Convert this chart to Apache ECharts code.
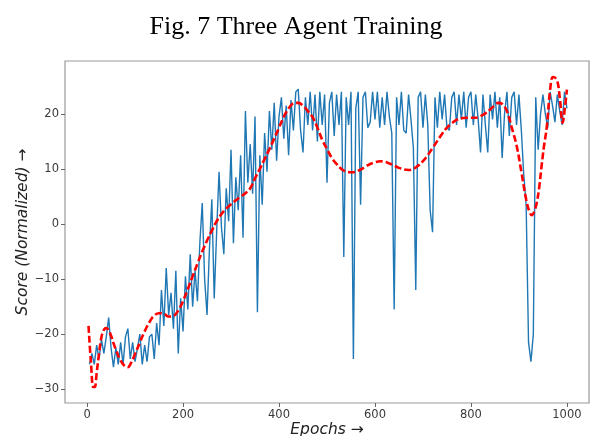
<!DOCTYPE html>
<html>
<head>
<meta charset="utf-8">
<script src="https://cdn.jsdelivr.net/npm/echarts@6/dist/echarts.min.js"></script>
<style>
html,body{margin:0;padding:0;background:#fff;}
#chart{width:592px;height:436px;}
</style>
</head>
<body>
<div id="chart"></div>
<script>
const titleText = 'Fig. 7 Three Agent Training';
const xName = 'Epochs \u2192';
const yName = 'Score (Normalized) \u2192';
const xTicks = [0, 200, 400, 600, 800, 1000];
const yTicks = [-30, -20, -10, 0, 10, 20];

const blueEpochs = [5,10,15,20,25,30,35,40,45,50,55,60,65,70,75,80,85,90,95,100,
105,110,115,120,125,130,135,140,145,150,155,160,165,170,175,180,185,190,195,200,
205,210,215,220,225,230,235,240,245,250,255,260,265,270,275,280,285,290,295,300,
305,310,315,320,325,330,335,340,345,350,355,360,365,370,375,380,385,390,395,400,
405,410,415,420,425,430,435,440,445,450,455,460,465,470,475,480,485,490,495,500,
505,510,515,520,525,530,535,540,545,550,555,560,565,570,575,580,585,590,595,600,
605,610,615,620,625,630,635,640,645,650,655,660,665,670,675,680,685,690,695,700,
705,710,715,720,725,730,735,740,745,750,755,760,765,770,775,780,785,790,795,800,
805,810,815,820,825,830,835,840,845,850,855,860,865,870,875,880,885,890,895,900,
905,910,915,920,925,930,935,940,945,950,955,960,965,970,975,980,985,990,995,1000];
const blueScores = [-25.5,-23.5,-25.5,-22,-24.5,-21,-23.5,-20.5,-17,-22.5,-26,-22.5,-25.5,-21.5,-25.5,-20.5,-19,-24.5,-21.5,-25,
-22.5,-20,-25.5,-22,-25,-20.5,-20,-24.5,-18,-22,-12,-18.5,-8,-16.5,-12.5,-19,-8.5,-23.5,-13.5,-19.5,
-9.5,-15.5,-5.5,-15,-8.5,-14,-3.5,3.8,-10,-16.5,-4.5,4.5,-13.5,-1.5,9.5,-0.5,-5.5,6.5,0.5,13.5,
-3.5,8.5,2.5,12.5,-2.5,20.5,7.5,14.5,5.5,19.5,-16,12.5,3.5,16.5,9.5,20.5,13.5,22,11.5,19.5,
23,15.5,21.5,12.5,22.5,17,24,24.5,17,13,23,18,24,17,23.5,15,24,18,23.5,7.5,
22,24,16,23.5,18,24,-6,23,18,24,-24.5,21,24,3.5,23,24,17.5,18.5,24,19,
24,17.5,23,18,24,19.5,16.5,-15.5,23,18,24,17,16.5,23.5,19,13.8,-12,23,24,17.5,
23.5,18,2.5,-1.5,23,17.5,24,19,23.5,17.5,17,23,24,18,23.5,19,24,17.5,23,24,
18,23.5,19,13,23.5,18,13,23.5,19,24,17.5,23,12,20,24,16,23,24,18,23.5,
17,9,3.5,-21.5,-25,-20,23,13.5,20,23.5,20,17.5,24,21.5,18.5,23.5,20.5,18,24,21];

const redEpochs = [3,8,13,16,20,25,30,35,40,45,50,55,60,70,80,85,90,100,110,120,
130,140,150,160,170,180,190,200,210,220,230,240,250,260,270,280,290,300,310,320,
330,340,350,360,370,380,390,400,410,420,430,440,450,460,470,480,490,500,510,520,
530,540,550,560,570,580,590,600,610,620,630,640,650,660,670,680,690,700,710,720,
730,740,750,760,770,780,790,800,810,820,830,840,850,857,865,875,885,895,905,915,
922,927,932,937,942,947,952,958,965,971,979,985,991,996,1000];
const redScores = [-18.5,-25,-29.6,-29.6,-27,-23.5,-20.5,-19.2,-18.9,-19.3,-20.3,-21.6,-22.8,-24.8,-25.9,-26,-25.5,-23.6,-21.5,-19.5,
-17.8,-16.6,-16.2,-16.3,-16.8,-16.7,-15.7,-14,-11.8,-9.5,-7.2,-5,-3,-1.2,0.5,1.8,2.8,3.6,4.3,5,
5.6,6.5,8.3,10,11.8,13.6,15.5,17.5,19.5,21,21.9,22,21.5,20.5,19.4,17.5,15.3,13.6,12,10.9,
10,9.5,9.4,9.5,9.9,10.4,10.9,11.2,11.4,11.3,11,10.6,10.2,9.9,9.8,10,10.6,11.4,12.5,13.8,
15.1,16.4,17.5,18.3,18.9,19.2,19.3,19.3,19.3,19.6,20.1,20.8,21.6,22,21.8,20.5,17.5,14.3,9.5,4.5,
2.2,1.6,2.3,3.8,6.5,10.4,14,17.6,24.4,26.7,26.2,23,18.4,21.3,24.4];

const blueData = blueEpochs.map((e, i) => [e, blueScores[i]]);
const redData = redEpochs.map((e, i) => [e, redScores[i]]);

const tickFont = { fontFamily: 'DejaVu Sans', fontSize: 11.5, color: '#3a3a3a' };
const minusFmt = v => String(v).replace('-', '\u2212');

const chart = echarts.init(document.getElementById('chart'), null, { renderer: 'canvas' });
chart.setOption({
  backgroundColor: '#ffffff',
  animation: false,
  title: {
    text: titleText,
    left: 'center',
    top: 9,
    textStyle: { fontFamily: 'Liberation Serif', fontSize: 26, fontWeight: 'normal', color: '#000' }
  },
  grid: {
    left: 65, right: 3, top: 61, bottom: 33,
    show: true, borderColor: '#9a9a9a', borderWidth: 1.2, backgroundColor: 'transparent',
    containLabel: false, outerBoundsMode: 'none'
  },
  xAxis: {
    type: 'value', min: -46, max: 1046,
    name: xName, nameLocation: 'middle', nameGap: 19, nameMoveOverlap: false,
    nameTextStyle: { fontFamily: 'DejaVu Sans', fontStyle: 'italic', fontSize: 15.5, color: '#222', verticalAlign: 'top' },
    axisLine: { show: false, onZero: false },
    splitLine: { show: false },
    axisTick: { show: true, length: 4, lineStyle: { color: '#666', width: 1 }, customValues: xTicks },
    axisLabel: Object.assign({ margin: 6, customValues: xTicks, formatter: minusFmt }, tickFont)
  },
  yAxis: {
    type: 'value', min: -32.5, max: 29.6,
    name: yName, nameLocation: 'middle', nameGap: 34, nameRotate: 90, nameMoveOverlap: false,
    nameTextStyle: { fontFamily: 'DejaVu Sans', fontStyle: 'italic', fontSize: 15.5, color: '#222' },
    axisLine: { show: false, onZero: false },
    splitLine: { show: false },
    axisTick: { show: true, length: 4, lineStyle: { color: '#666', width: 1 }, customValues: yTicks },
    axisLabel: Object.assign({ margin: 6, customValues: yTicks, formatter: minusFmt }, tickFont)
  },
  series: [
    {
      type: 'line', data: blueData, showSymbol: false, symbol: 'none',
      lineStyle: { color: '#1f77b4', width: 1.4 }, z: 2
    },
    {
      type: 'line', data: redData, showSymbol: false, symbol: 'none', smooth: 0.4,
      lineStyle: { color: '#ff0000', width: 2.6, type: [7, 3] }, z: 3
    }
  ]
});
</script>
</body>
</html>
